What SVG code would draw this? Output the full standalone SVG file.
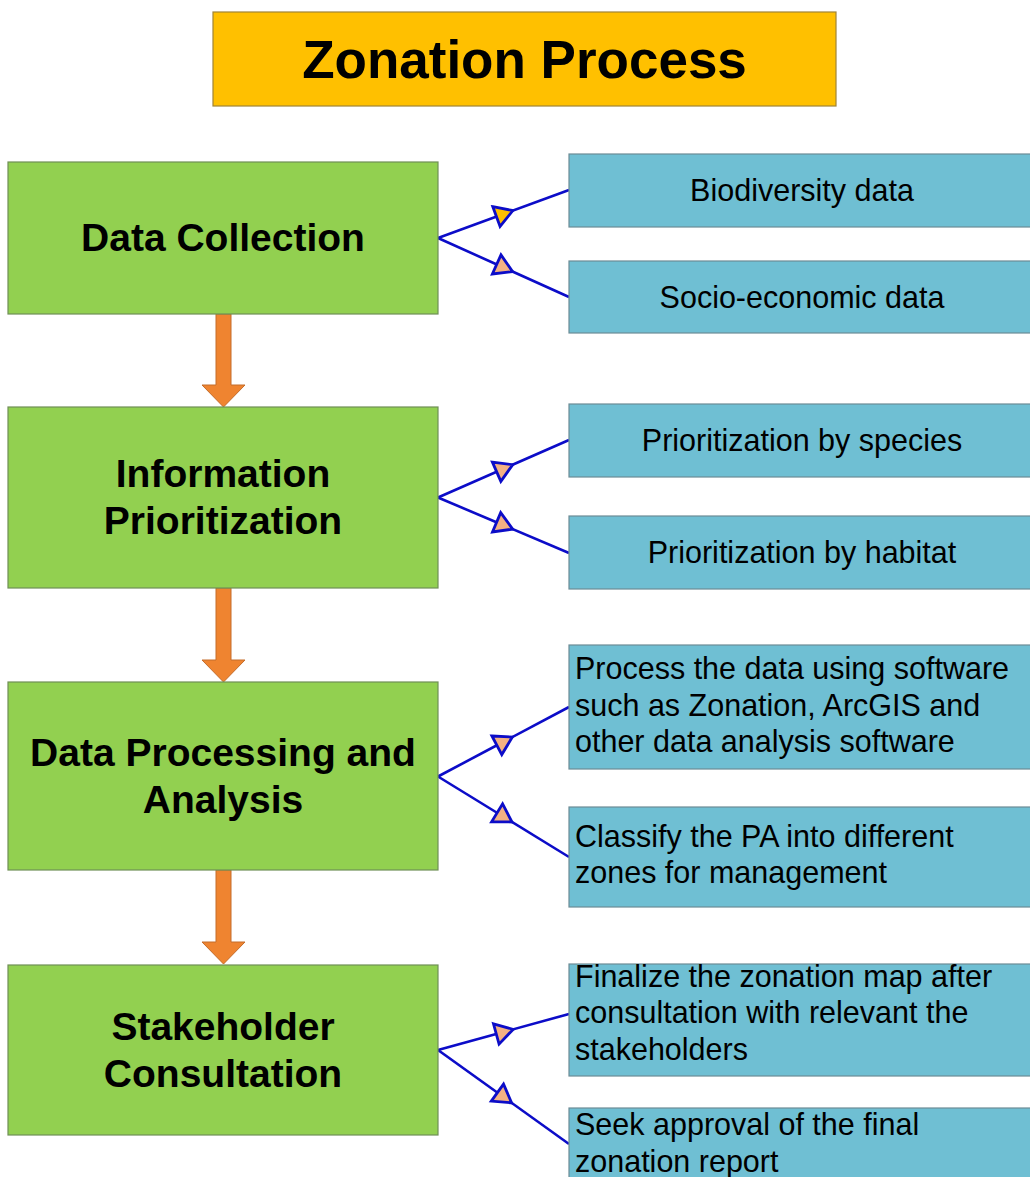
<svg xmlns="http://www.w3.org/2000/svg" width="1030" height="1177" viewBox="0 0 1030 1177">
  <style>
    .title-box { fill: #FFC000; stroke: #A08436; stroke-width: 1.2; }
    .step { fill: #92D050; stroke: #6F8F55; stroke-width: 1.2; }
    .detail { fill: #6FBFD3; stroke: #6C8C96; stroke-width: 1.2; }
    .flow { fill: #EF8430; stroke: #C46C2A; stroke-width: 1; }
    .branch { fill: none; stroke: #0C0CC8; stroke-width: 2.6; }
    .title { font-family: "Liberation Sans", Arial, sans-serif; font-weight: bold; font-size: 53px; fill: #000; text-anchor: middle; }
    .step-text { font-family: "Liberation Sans", Arial, sans-serif; font-weight: bold; font-size: 39px; fill: #000; text-anchor: middle; }
    .detail-text { font-family: "Liberation Sans", Arial, sans-serif; font-size: 30.5px; fill: #000; }
    .c { text-anchor: middle; }
  </style>
  <defs>
    <marker id="tri-gold" markerUnits="userSpaceOnUse" markerWidth="30" markerHeight="30" refX="0" refY="0" orient="auto" overflow="visible">
      <path d="M-7.5,-10.5 L10,0 L-7.5,10.5 Z" fill="#FFC000" stroke="#0C0CC8" stroke-width="2.8" stroke-linejoin="miter"/>
    </marker>
    <marker id="tri-salmon" markerUnits="userSpaceOnUse" markerWidth="30" markerHeight="30" refX="0" refY="0" orient="auto" overflow="visible">
      <path d="M-7.5,-10.5 L10,0 L-7.5,10.5 Z" fill="#F4B183" stroke="#0C0CC8" stroke-width="2.8" stroke-linejoin="miter"/>
    </marker>
  </defs>

  <rect width="1030" height="1177" fill="#FFFFFF"/>

  <!-- heading -->
  <g id="title">
    <rect class="title-box" x="213" y="12" width="623" height="94"/>
    <text class="title" x="524.5" y="77.5">Zonation Process</text>
  </g>

  <!-- downward flow arrows between steps -->
  <g id="flow-arrows">
    <polygon class="flow" points="216,314 231,314 231,385 245,385 223.5,407 202,385 216,385"/>
    <polygon class="flow" points="216,588 231,588 231,660 245,660 223.5,682 202,660 216,660"/>
    <polygon class="flow" points="216,870 231,870 231,942 245,942 223.5,964 202,942 216,942"/>
  </g>

  <!-- branch connectors from each step to its details -->
  <g id="connectors">
    <path class="branch" d="M438,238 L503.5,214 L569,190" marker-mid="url(#tri-gold)"/>
    <path class="branch" d="M438,238 L503.5,267.5 L569,297" marker-mid="url(#tri-salmon)"/>
    <path class="branch" d="M438,497.5 L503.5,468.75 L569,440" marker-mid="url(#tri-salmon)"/>
    <path class="branch" d="M438,497.5 L503.5,525.25 L569,553" marker-mid="url(#tri-salmon)"/>
    <path class="branch" d="M438,776.5 L503.5,741.75 L569,707" marker-mid="url(#tri-salmon)"/>
    <path class="branch" d="M438,776.5 L503.5,816.75 L569,857" marker-mid="url(#tri-salmon)"/>
    <path class="branch" d="M438,1050 L503.5,1032 L569,1014" marker-mid="url(#tri-salmon)"/>
    <path class="branch" d="M438,1050 L503.5,1097 L569,1144" marker-mid="url(#tri-salmon)"/>
  </g>

  <!-- process steps -->
  <g id="step-collection">
    <rect class="step" x="8" y="162" width="430" height="152"/>
    <text class="step-text" x="223" y="251">Data Collection</text>
  </g>
  <g id="step-prioritization">
    <rect class="step" x="8" y="407" width="430" height="181"/>
    <text class="step-text" x="223" y="487">Information</text>
    <text class="step-text" x="223" y="534">Prioritization</text>
  </g>
  <g id="step-processing">
    <rect class="step" x="8" y="682" width="430" height="188"/>
    <text class="step-text" x="223" y="766">Data Processing and</text>
    <text class="step-text" x="223" y="813">Analysis</text>
  </g>
  <g id="step-consultation">
    <rect class="step" x="8" y="965" width="430" height="170"/>
    <text class="step-text" x="223" y="1039.5">Stakeholder</text>
    <text class="step-text" x="223" y="1086.5">Consultation</text>
  </g>

  <!-- detail boxes -->
  <g id="detail-biodiversity">
    <rect class="detail" x="569" y="154" width="470" height="73"/>
    <text class="detail-text c" x="802" y="201">Biodiversity data</text>
  </g>
  <g id="detail-socio">
    <rect class="detail" x="569" y="261" width="470" height="72"/>
    <text class="detail-text c" x="802" y="307.5">Socio-economic data</text>
  </g>
  <g id="detail-species">
    <rect class="detail" x="569" y="404" width="470" height="73"/>
    <text class="detail-text c" x="802" y="451">Prioritization by species</text>
  </g>
  <g id="detail-habitat">
    <rect class="detail" x="569" y="516" width="470" height="73"/>
    <text class="detail-text c" x="802" y="563">Prioritization by habitat</text>
  </g>
  <g id="detail-software">
    <rect class="detail" x="569" y="645" width="470" height="124"/>
    <text class="detail-text" x="575" y="679">Process the data using software</text>
    <text class="detail-text" x="575" y="715.5">such as Zonation, ArcGIS and</text>
    <text class="detail-text" x="575" y="752">other data analysis software</text>
  </g>
  <g id="detail-classify">
    <rect class="detail" x="569" y="807" width="470" height="100"/>
    <text class="detail-text" x="575" y="847">Classify the PA into different</text>
    <text class="detail-text" x="575" y="883">zones for management</text>
  </g>
  <g id="detail-finalize">
    <rect class="detail" x="569" y="964" width="470" height="112"/>
    <text class="detail-text" x="575" y="987">Finalize the zonation map after</text>
    <text class="detail-text" x="575" y="1023">consultation with relevant the</text>
    <text class="detail-text" x="575" y="1060">stakeholders</text>
  </g>
  <g id="detail-approval">
    <rect class="detail" x="569" y="1108" width="470" height="90"/>
    <text class="detail-text" x="575" y="1135">Seek approval of the final</text>
    <text class="detail-text" x="575" y="1171.5">zonation report</text>
  </g>
</svg>
